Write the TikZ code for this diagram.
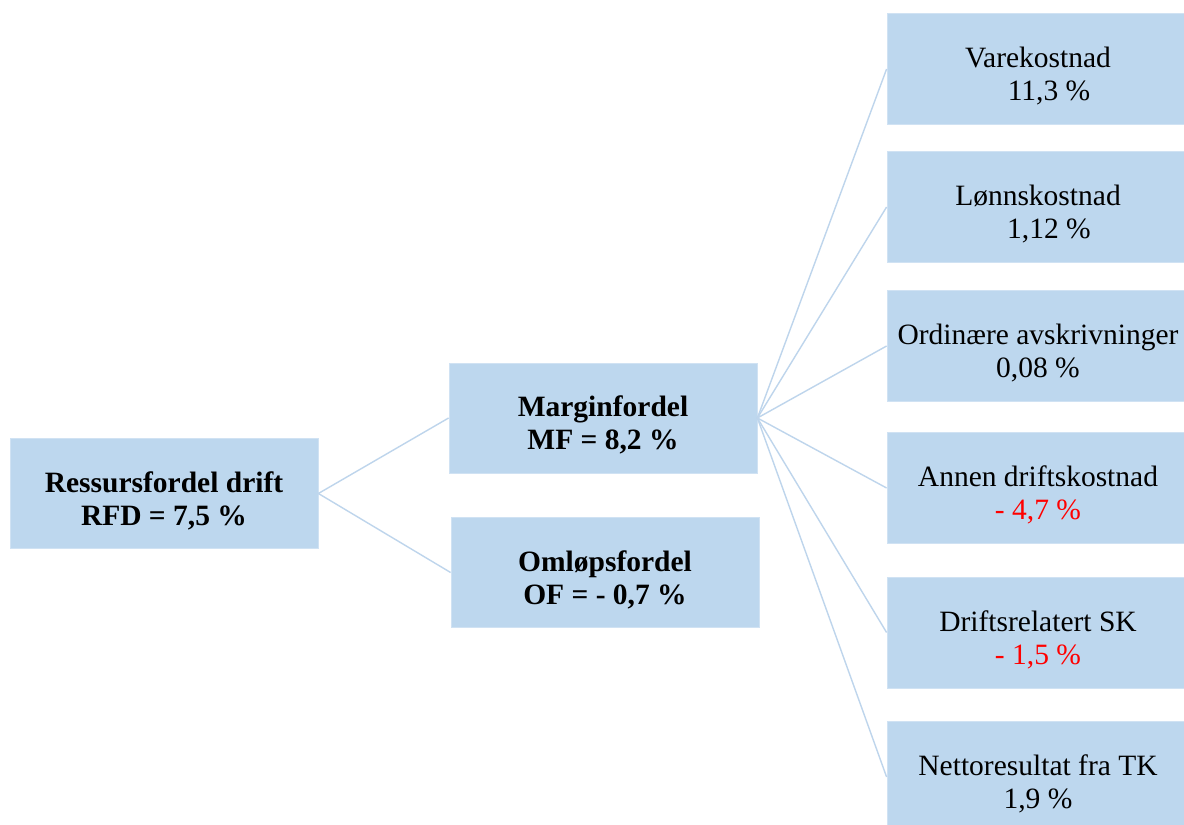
\documentclass[tikz,border=0pt]{standalone}
\usepackage{fontspec}
\setmainfont{Liberation Serif}
\definecolor{boxfill}{RGB}{189,215,238}
\definecolor{boxedge}{RGB}{208,226,243}
\definecolor{linkblue}{RGB}{190,213,236}
\definecolor{negred}{RGB}{255,0,0}
% extra room above the first line, to sit the text a little lower in its box
\newcommand{\firstline}{\rule{0pt}{35pt}}
\begin{document}
\begin{tikzpicture}[x=1pt,y=1pt,
  every node/.style={font=\fontsize{29.5}{33}\selectfont},
  factor/.style={fill=boxfill, draw=boxedge, line width=0.8pt, align=center,
    inner sep=0pt, minimum width=308, minimum height=110},
  driver/.style={factor, minimum width=302, minimum height=111},
  link/.style={draw=linkblue, line width=1.4pt}]
\clip (0,0) rectangle (1184,825);
\fill[white] (0,0) rectangle (1184,825);

% left: resource advantage
\node[factor] (rfd) at (164,331.5) {\firstline\bfseries Ressursfordel drift\\\bfseries RFD = 7,5 \%};

% middle: margin and turnover
\node[factor] (mf) at (603,407) {\firstline\bfseries Marginfordel\\\bfseries MF = 8,2 \%};
\node[factor] (of) at (605,252.5) {\firstline\bfseries Omløpsfordel\\\bfseries OF = - 0,7 \%};

% right: cost drivers
\node[driver] (vk) at (1038,756) {\firstline Varekostnad\\\hspace*{22pt}11,3 \%};
\node[driver] (lk) at (1038,618) {\firstline Lønnskostnad\\\hspace*{22pt}1,12 \%};
\node[driver] (oa) at (1038,479) {\firstline Ordinære avskrivninger\\0,08 \%};
\node[driver] (ad) at (1038,337) {\firstline Annen driftskostnad\\\textcolor{negred}{- 4,7 \%}};
\node[driver] (ds) at (1038,192.5) {\firstline Driftsrelatert SK\\\textcolor{negred}{- 1,5 \%}};
\node[driver] (nt) at (1038,48) {\firstline Nettoresultat fra TK\\1,9 \%};

% connectors
\draw[link] (rfd.east) -- (mf.west);
\draw[link] (rfd.east) -- (of.west);
\foreach \d in {vk,lk,oa,ad,ds,nt}
  \draw[link] (mf.east) -- (\d.west);
\end{tikzpicture}
\end{document}
